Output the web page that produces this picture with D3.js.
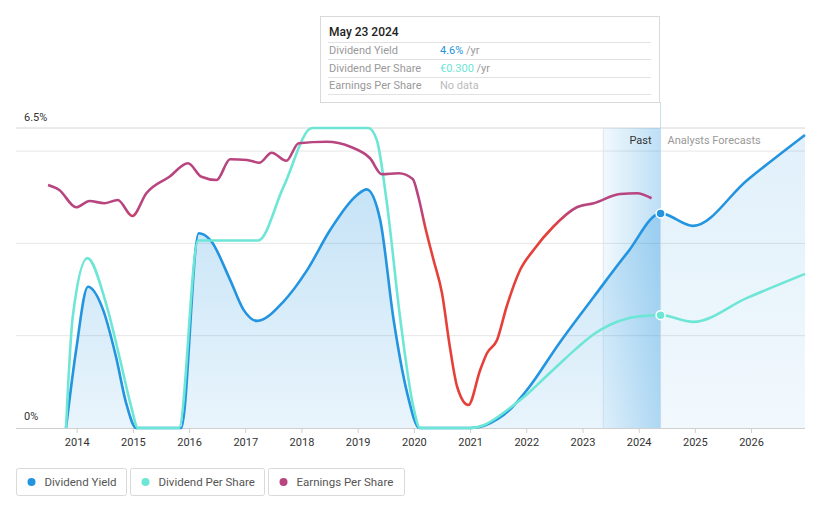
<!DOCTYPE html>
<html><head><meta charset="utf-8">
<script src="https://cdnjs.cloudflare.com/ajax/libs/d3/7.8.5/d3.min.js"></script>
<style>
html,body{margin:0;padding:0;background:#fff;}
svg{display:block;font-family:Roboto,"Noto Sans",sans-serif;}
</style></head>
<body>
<svg id="chart" width="821" height="508"></svg>
<script>
// ---------- data ----------
const yearTicks = [2014,2015,2016,2017,2018,2019,2020,2021,2022,2023,2024,2025,2026];
const yLabels = ["6.5%","0%"];
const gridYield = [2,4,6];

const yieldYears = [2013.81,2013.99,2014.20,2014.47,2014.70,2014.88,2015.06,2015.86,2016.17,2016.38,2016.73,2016.97,2017.21,2017.68,2018.10,2018.51,2018.99,2019.16,2019.40,2019.64,2019.88,2020.10,2021.00,2021.25,2021.50,2021.75,2022.01,2022.60,2023.20,2023.80,2024.39,2024.97,2025.93,2026.96];
const yieldValues = [0,1.69,3.06,2.56,1.54,0.54,0,0,4.22,4.07,3.21,2.56,2.32,2.74,3.42,4.29,5.05,5.17,4.51,2.34,0.76,0,0,0.05,0.20,0.45,0.82,1.86,2.84,3.80,4.65,4.38,5.37,6.35];

const dpsYears = [2013.81,2013.93,2014.19,2014.52,2014.76,2014.97,2015.09,2015.82,2016.16,2017.23,2017.68,2018.19,2019.19,2019.34,2019.52,2019.76,2019.99,2020.11,2021.00,2021.25,2021.50,2021.75,2022.00,2022.30,2022.60,2022.90,2023.20,2023.50,2023.80,2024.10,2024.39,2024.97,2025.93,2026.96];
const dpsValues = [0,0.297,0.453,0.333,0.19,0.057,0,0,0.5,0.5,0.643,0.8,0.8,0.768,0.599,0.288,0.057,0,0,0.008,0.03,0.058,0.088,0.13,0.172,0.213,0.25,0.276,0.292,0.299,0.301,0.283,0.347,0.411];

const epsYears = [2013.49,2013.69,2013.99,2014.23,2014.49,2014.73,2014.99,2015.24,2015.65,2015.98,2016.22,2016.49,2016.73,2017.03,2017.25,2017.47,2017.73,2017.95,2018.45,2018.87,2019.22,2019.43,2019.73,2019.98,2020.08,2020.20,2020.35,2020.50,2020.64,2020.77,2020.97,2021.18,2021.30,2021.48,2021.65,2021.89,2022.13,2022.48,2022.90,2023.20,2023.67,2023.97,2024.23];
const epsValues = [0.972,0.952,0.883,0.908,0.899,0.912,0.848,0.939,1.005,1.059,1.005,0.992,1.075,1.072,1.061,1.101,1.069,1.139,1.145,1.125,1.079,1.015,1.019,0.996,0.925,0.805,0.672,0.54,0.325,0.165,0.092,0.232,0.299,0.352,0.485,0.632,0.712,0.805,0.883,0.899,0.936,0.939,0.919];

const nowYear = 2024.39;      // May 23 2024
const pastStart = 2023.37;
const seriesNames = ["Dividend Yield","Dividend Per Share","Earnings Per Share"];
const seriesColors = ["#2394df","#6ee6d6","#b8457f"];
const epsDeclineColor = "#e5403a";
const tooltipTitle = "May 23 2024";
const tooltipRows = [["Dividend Yield","4.6%"," /yr"],["Dividend Per Share","€0.300"," /yr"],["Earnings Per Share","No data",""]];

// ---------- layout ----------
const L = 16, R = 805, T = 128, B = 428;
const svg = d3.select("#chart");
const x = d3.scaleLinear().domain([2012.92, 2026.96]).range([L, R]);
const yY = d3.scaleLinear().domain([0, 6.5]).range([B, T]);
const yD = d3.scaleLinear().domain([0, 0.8]).range([B, T]);
const yE = d3.scaleLinear().domain([0, 1.2]).range([B, T]);

const defs = svg.append("defs");
const gA = defs.append("linearGradient").attr("id","areaPast").attr("gradientUnits","userSpaceOnUse")
  .attr("x1",0).attr("y1",T).attr("x2",0).attr("y2",B);
gA.append("stop").attr("offset",0).attr("stop-color","#2394df").attr("stop-opacity",0.30);
gA.append("stop").attr("offset",1).attr("stop-color","#2394df").attr("stop-opacity",0.10);
const gF = defs.append("linearGradient").attr("id","areaFut").attr("gradientUnits","userSpaceOnUse")
  .attr("x1",0).attr("y1",T).attr("x2",0).attr("y2",B);
gF.append("stop").attr("offset",0).attr("stop-color","#2394df").attr("stop-opacity",0.14);
gF.append("stop").attr("offset",1).attr("stop-color","#2394df").attr("stop-opacity",0.06);
const gB = defs.append("linearGradient").attr("id","band").attr("x1",0).attr("x2",1).attr("y1",0).attr("y2",0);
gB.append("stop").attr("offset",0).attr("stop-color","#2394df").attr("stop-opacity",0.06);
gB.append("stop").attr("offset",1).attr("stop-color","#2394df").attr("stop-opacity",0.30);
const gE = defs.append("linearGradient").attr("id","epsGrad").attr("gradientUnits","userSpaceOnUse")
  .attr("x1",0).attr("y1",210).attr("x2",0).attr("y2",228);
gE.append("stop").attr("offset",0).attr("stop-color",seriesColors[2]);
gE.append("stop").attr("offset",1).attr("stop-color",epsDeclineColor);
defs.append("clipPath").attr("id","clipPast").append("rect")
  .attr("x",L).attr("y",0).attr("width",x(nowYear)-L).attr("height",B);
defs.append("clipPath").attr("id","clipFut").append("rect")
  .attr("x",x(nowYear)).attr("y",0).attr("width",R-x(nowYear)).attr("height",B);

// gridlines
svg.append("g").selectAll("line").data(gridYield).join("line")
  .attr("x1",L).attr("x2",R).attr("y1",d=>yY(d)).attr("y2",d=>yY(d))
  .attr("stroke","#e6e6e6").attr("stroke-width",1);
svg.append("line").attr("x1",L).attr("x2",R).attr("y1",yY(6.5)).attr("y2",yY(6.5))
  .attr("stroke","#d6d6d6").attr("stroke-width",1);

// past band
svg.append("rect").attr("x",x(pastStart)).attr("y",T).attr("width",x(nowYear)-x(pastStart)).attr("height",B-T)
  .attr("fill","url(#band)");
svg.append("line").attr("x1",x(pastStart)).attr("x2",x(pastStart)).attr("y1",T).attr("y2",B)
  .attr("stroke","#d6e8f6").attr("stroke-width",1);

// areas under dividend yield
const yieldData = yieldYears.map((t,i)=>({t, v:yieldValues[i]}));
const dpsData = dpsYears.map((t,i)=>({t, v:dpsValues[i]}));
const epsData = epsYears.map((t,i)=>({t, v:epsValues[i]}));
const area = d3.area().curve(d3.curveMonotoneX).x(d=>x(d.t)).y0(B).y1(d=>yY(d.v));
svg.append("path").datum(yieldData).attr("d",area).attr("fill","url(#areaPast)").attr("clip-path","url(#clipPast)");
svg.append("path").datum(yieldData).attr("d",area).attr("fill","url(#areaFut)").attr("clip-path","url(#clipFut)");

// now line
svg.append("line").attr("x1",x(nowYear)).attr("x2",x(nowYear)).attr("y1",102).attr("y2",B)
  .attr("stroke","#c6dcee").attr("stroke-width",1);

// x axis
svg.append("line").attr("x1",L).attr("x2",R).attr("y1",B+0.5).attr("y2",B+0.5).attr("stroke","#cfcfcf");
const xAxis = d3.axisBottom(x).tickValues(yearTicks).tickFormat(d3.format("d")).tickSize(5).tickPadding(5);
const ax = svg.append("g").attr("transform",`translate(0,${B})`).call(xAxis);
ax.select(".domain").remove();
ax.selectAll(".tick line").attr("stroke","#cfcfcf");
ax.selectAll(".tick text").attr("fill","#333").attr("font-size","11px").attr("font-family","Roboto, sans-serif");

// y labels
svg.append("text").attr("x",24).attr("y",121).attr("font-size","11px").attr("fill","#333").text(yLabels[0]);
svg.append("text").attr("x",24).attr("y",420).attr("font-size","11px").attr("fill","#333").text(yLabels[1]);

// lines
const lineY = d3.line().curve(d3.curveMonotoneX).x(d=>x(d.t)).y(d=>yY(d.v));
const lineD = d3.line().curve(d3.curveMonotoneX).x(d=>x(d.t)).y(d=>yD(d.v));
const lineE = d3.line().curve(d3.curveMonotoneX).x(d=>x(d.t)).y(d=>yE(d.v));
svg.append("path").datum(yieldData).attr("d",lineY).attr("fill","none").attr("stroke",seriesColors[0]).attr("stroke-width",2.6);
svg.append("path").datum(dpsData).attr("d",lineD).attr("fill","none").attr("stroke",seriesColors[1]).attr("stroke-width",2.6);
svg.append("path").datum(epsData).attr("d",lineE).attr("fill","none").attr("stroke","url(#epsGrad)").attr("stroke-width",2.6);

// markers at now
const yNow = yieldValues[yieldYears.indexOf(nowYear)];
const dNow = dpsValues[dpsYears.indexOf(nowYear)];
svg.append("circle").attr("cx",x(nowYear)).attr("cy",yY(yNow)).attr("r",4.5).attr("fill",seriesColors[0]).attr("stroke","#fff").attr("stroke-width",1.5);
svg.append("circle").attr("cx",x(nowYear)).attr("cy",yD(dNow)).attr("r",4.5).attr("fill",seriesColors[1]).attr("stroke","#fff").attr("stroke-width",1.5);

// Past / Forecast labels
svg.append("text").attr("x",x(nowYear)-9).attr("y",144).attr("text-anchor","end").attr("font-size","11px").attr("fill","#333").text("Past");
svg.append("text").attr("x",x(nowYear)+7).attr("y",144).attr("font-size","11px").attr("fill","#999").text("Analysts Forecasts");

// tooltip
const tt = svg.append("g");
tt.append("rect").attr("x",320.5).attr("y",16.5).attr("width",339).attr("height",86).attr("fill","#fff").attr("stroke","#d9d9d9");
tt.append("text").attr("x",329).attr("y",36).attr("font-size","12px").attr("font-weight",500).attr("fill","#222").text(tooltipTitle);
[42.5,59.5,77.5,94.5].forEach(yy=>{
  tt.append("line").attr("x1",328).attr("x2",651).attr("y1",yy).attr("y2",yy).attr("stroke","#e2e2e2");
});
const valColors = [seriesColors[0], seriesColors[1], "#bbbbbb"];
tooltipRows.forEach((r,i)=>{
  const yy = [54,71.5,89][i];
  tt.append("text").attr("x",329).attr("y",yy).attr("font-size","11px").attr("fill","#999").text(r[0]);
  const t = tt.append("text").attr("x",440).attr("y",yy).attr("font-size","11px");
  t.append("tspan").attr("fill",valColors[i]).text(r[1]);
  t.append("tspan").attr("fill","#999").text(r[2]);
});

// legend
const legX = [16.5,130.5,268.5], legW = [110,134,136];
seriesNames.forEach((n,i)=>{
  const g = svg.append("g").attr("transform",`translate(${legX[i]},468.5)`);
  g.append("rect").attr("width",legW[i]).attr("height",27).attr("rx",2).attr("fill","#fff").attr("stroke","#d9d9d9");
  g.append("circle").attr("cx",15).attr("cy",13.5).attr("r",4).attr("fill",seriesColors[i]);
  g.append("text").attr("x",28).attr("y",17.5).attr("font-size","11.5px").attr("fill","#555").text(n);
});
</script>
</body></html>
